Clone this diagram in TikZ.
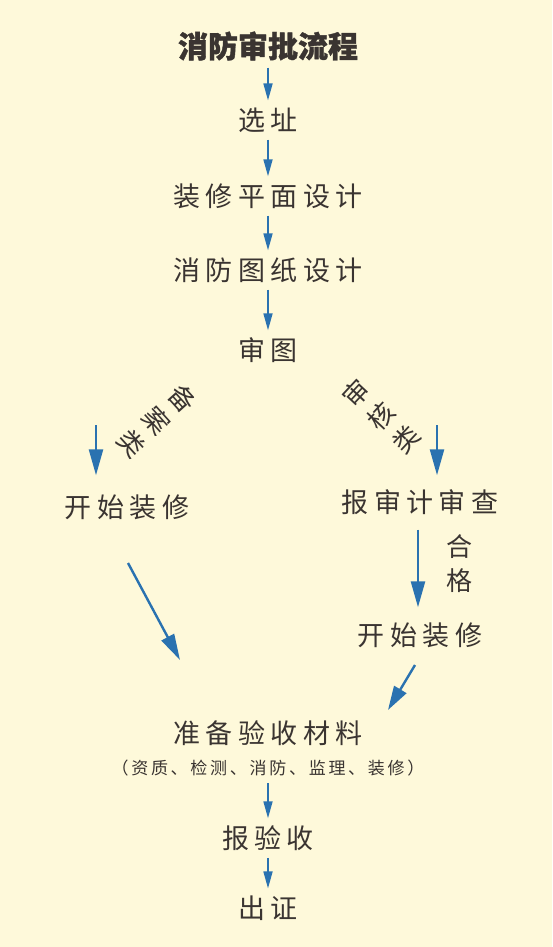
\documentclass[tikz,border=0pt]{standalone}
\usepackage{fontspec}
\usepackage{xcolor}
\usetikzlibrary{arrows.meta}
\newfontfamily\cjk{Noto Sans CJK SC}
\definecolor{paperbg}{HTML}{FEF9DA}
\definecolor{flowblue}{HTML}{2A72B0}
\definecolor{inkgray}{HTML}{3A3431}
\tikzset{
  stepnode/.style={inner sep=0pt,text=inkgray,font=\cjk\fontsize{27}{27}\selectfont\addfontfeature{LetterSpace=20}},
  titlenode/.style={inner sep=0pt,text=inkgray,font=\cjk\bfseries\fontsize{30}{30}\selectfont\addfontfeature{FakeBold=1.2}},
  notenode/.style={inner sep=0pt,text=inkgray,font=\cjk\fontsize{17}{17}\selectfont\addfontfeature{LetterSpace=16}},
  tagnode/.style={inner sep=0pt,text=inkgray,align=center,font=\cjk\fontsize{26}{34}\selectfont},
  flow/.style={flowblue,line width=2.4pt,-{Triangle[length=26pt,width=14pt]}},
  flowsmall/.style={flowblue,line width=1.7pt,-{Triangle[length=17pt,width=9pt]},shorten <=7pt,shorten >=7pt}
}
\begin{document}
\begin{tikzpicture}[x=1pt,y=-1pt]
\fill[paperbg] (0,0) rectangle (552,947);
% main column
\node[titlenode] (title) at (268,46) {消防审批流程};
\node[stepnode] (site) at (268,120) {选址};
\node[stepnode] (plan) at (268,196) {装修平面设计};
\node[stepnode] (firedraw) at (268,270) {消防图纸设计};
\node[stepnode] (review) at (268,350) {审图};
% two branches
\node[tagnode,rotate=-48] (filetag) at (157,421) {备\\案\\类};
\node[tagnode,rotate=47] (checktag) at (381,416) {审\\核\\类};
\node[stepnode] (lstart) at (127,507) {开始装修};
\node[stepnode] (rcheck) at (420,502) {报审计审查};
\node[tagnode] (passtag) at (459,564) {合\\格};
\node[stepnode] (rstart) at (420,635) {开始装修};
% acceptance
\node[stepnode] (mat) at (268,733) {准备验收材料};
\node[notenode] (matnote) at (268,768) {（资质、检测、消防、监理、装修）};
\node[stepnode] (accept) at (268,838) {报验收};
\node[stepnode] (cert) at (268,908) {出证};
\coordinate (lhead) at (96,425);
\coordinate (rhead) at (437,425);
\coordinate (lfrom) at (128,563);
\coordinate (lto) at (180,660);
\coordinate (rfrom) at (415,665);
\coordinate (rto) at (388,710);
\draw[flowsmall] (title) -- (site);
\draw[flowsmall] (site) -- (plan);
\draw[flowsmall] (plan) -- (firedraw);
\draw[flowsmall] (firedraw) -- (review);
\draw[flow,shorten >=19pt] (lhead) -- (lhead |- lstart.north);
\draw[flow,shorten >=14pt] (rhead) -- (rhead |- rcheck.north);
\draw[flow,shorten <=15pt,shorten >=15pt] ([xshift=-2pt]rcheck.south) -- ([xshift=-2pt]rstart.north);
\draw[flow] (lfrom) -- (lto);
\draw[flow,-{Triangle[length=24pt,width=14pt]}] (rfrom) -- (rto);
\draw[flowsmall] (matnote) -- (accept);
\draw[flowsmall] (accept) -- (cert);
\end{tikzpicture}
\end{document}
